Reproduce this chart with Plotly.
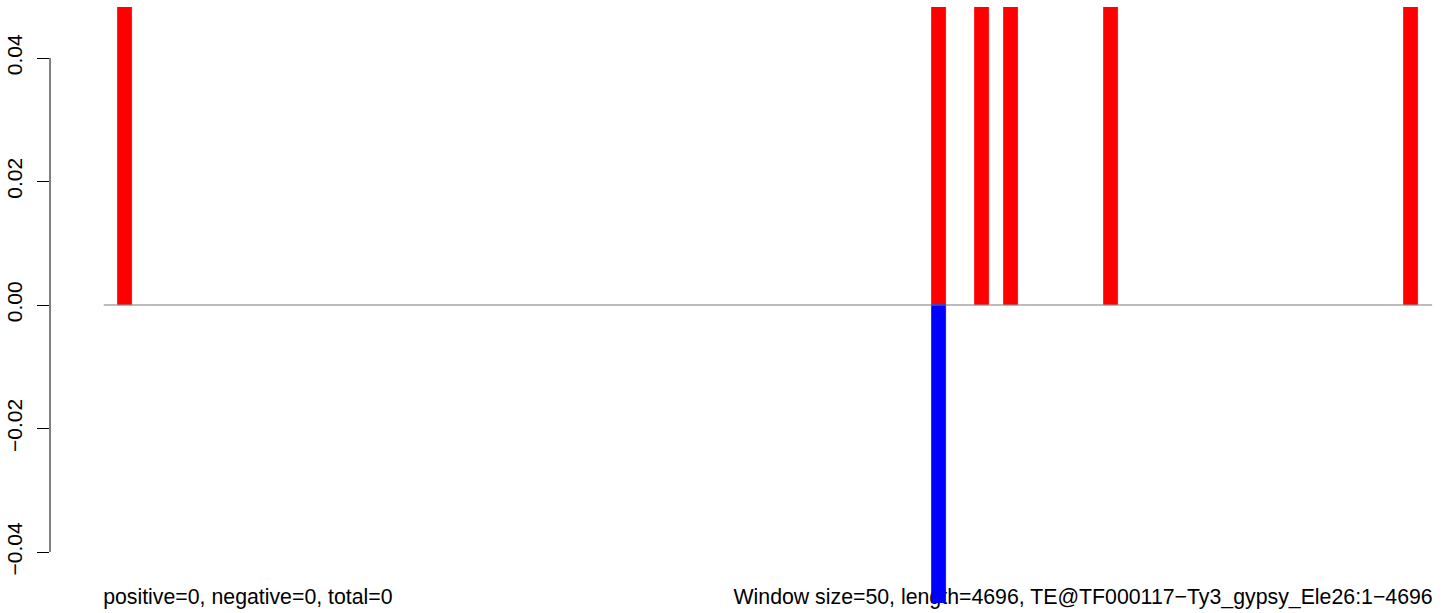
import plotly.graph_objects as go

# ---- data ----
n_windows = 93                      # number of 50-bp windows drawn
pos_windows = [2, 59, 62, 64, 71, 92]   # windows with positive (red) bars
pos_values = [1.0, 1.0, 1.0, 1.0, 1.0, 1.0]   # bars run off the top of the plot
neg_windows = [59]                  # windows with negative (blue) bars
neg_values = [-1.0]                 # bar runs off the bottom of the plot
y_ticks = [-0.04, -0.02, 0.0, 0.02, 0.04]
y_tick_labels = ["\u22120.04", "\u22120.02", "0.00", "0.02", "0.04"]
left_note = "positive=0, negative=0, total=0"
right_note = "Window size=50, length=4696, TE@TF000117\u2212Ty3_gypsy_Ele26:1\u22124696"

FONT = "Liberation Sans, Arial, Helvetica, sans-serif"

fig = go.Figure()

# zero baseline across all windows
fig.add_trace(go.Scatter(x=[0, n_windows], y=[0, 0], mode="lines",
                         line=dict(color="#7a7a7a", width=1.2),
                         hoverinfo="skip", showlegend=False))

fig.add_trace(go.Bar(x=[w - 0.5 for w in pos_windows], y=pos_values, width=1,
                     marker=dict(color="#ff0000", line=dict(color="#ff0000", width=0.8)),
                     showlegend=False))
fig.add_trace(go.Bar(x=[w - 0.5 for w in neg_windows], y=neg_values, width=1,
                     marker=dict(color="#0000ff", line=dict(color="#0000ff", width=0.8)),
                     showlegend=False))

shapes = [
    # y axis line spanning the tick range only (R style)
    dict(type="line", xref="paper", yref="y", x0=0, x1=0,
         y0=min(y_ticks), y1=max(y_ticks), line=dict(color="black", width=1), layer="above"),
    # bottom notes, drawn beneath the bars
    dict(type="rect", xref="x", yref="paper", x0=-0.25, x1=n_windows + 0.25, y0=-0.007, y1=0.1,
         line=dict(width=0), fillcolor="rgba(0,0,0,0)", layer="below",
         label=dict(text=left_note, textposition="bottom left", padding=0,
                    font=dict(family=FONT, size=21.3, color="black"))),
    dict(type="rect", xref="x", yref="paper", x0=-0.25, x1=n_windows + 0.25, y0=-0.007, y1=0.1,
         line=dict(width=0), fillcolor="rgba(0,0,0,0)", layer="below",
         label=dict(text=right_note, textposition="bottom right", padding=0,
                    font=dict(family=FONT, size=21.3, color="black"))),
]

fig.update_layout(
    width=1444, height=613,
    margin=dict(l=50, r=0, t=7, b=10, autoexpand=False),
    paper_bgcolor="white", plot_bgcolor="white",
    barmode="overlay", bargap=0,
    shapes=shapes,
    font=dict(family=FONT, size=21, color="black"),
    xaxis=dict(range=[-3.76, 93.83], visible=False, fixedrange=True),
    yaxis=dict(range=[-0.04826, 0.04826], tickvals=y_ticks, ticktext=y_tick_labels,
               tickangle=-90, ticks="outside", ticklen=12, tickwidth=1, tickcolor="black",
               showgrid=False, zeroline=False, showline=False, automargin=False,
               ticklabelstandoff=7,
               tickfont=dict(family=FONT, size=21, color="black")),
)

fig.write_html("out.html", config={"displayModeBar": False},
               post_script="document.body.style.margin='0';document.body.style.overflow='hidden';")
